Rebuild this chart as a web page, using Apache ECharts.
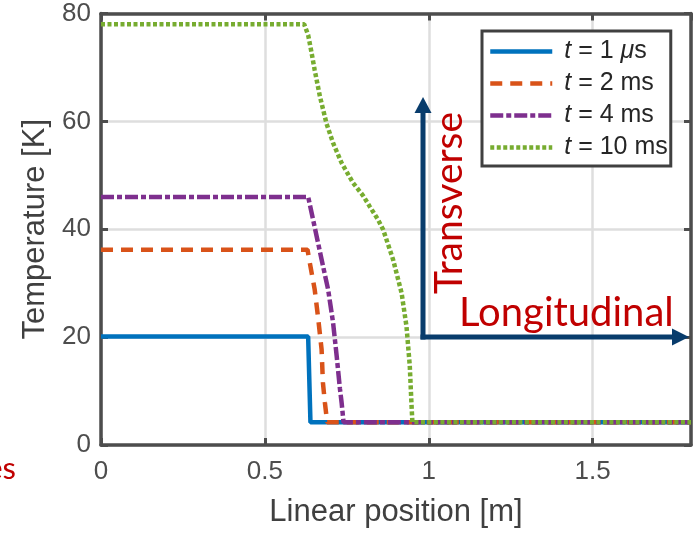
<!DOCTYPE html>
<html>
<head>
<meta charset="utf-8">
<script src="https://cdn.jsdelivr.net/npm/echarts@6/dist/echarts.min.js"></script>
<style>
  html, body { margin: 0; padding: 0; background: #fff; }
  #chart { width: 695px; height: 533px; }
</style>
</head>
<body>
<div id="chart"></div>
<script>
// temperature profiles [position m, temperature K]
const t1us = [[0, 20.1], [0.632, 20.1], [0.639, 4.2], [1.8, 4.2]]
const t2ms = [[0, 36.2], [0.63, 36.2], [0.637, 33.8], [0.652, 28.8], [0.662, 23.8],
  [0.673, 17.7], [0.677, 11.6], [0.683, 7.9], [0.69, 4.2], [1.8, 4.2]]
const t4ms = [[0, 46], [0.632, 46], [0.647, 41.8], [0.673, 34.4], [0.693, 28.8],
  [0.708, 22.7], [0.719, 16.5], [0.729, 10.4], [0.734, 7.9], [0.74, 4.2], [1.8, 4.2]]
const t10ms = [[0, 78], [0.62, 78], [0.632, 76], [0.64, 73.5], [0.652, 69.5],
  [0.668, 64.6], [0.688, 59.6], [0.708, 56], [0.734, 52.3], [0.769, 48.6],
  [0.8, 46.2], [0.82, 44.2], [0.845, 41.8], [0.861, 39.9], [0.891, 34.4],
  [0.917, 28.2], [0.932, 22], [0.942, 14.7], [0.947, 7.9], [0.95, 4.2], [1.8, 4.2]]

const names = ['t = 1 μs', 't = 2 ms', 't = 4 ms', 't = 10 ms']
const legendText = ['{i|t} = 1 {m|μ}s', '{i|t} = 2 ms', '{i|t} = 4 ms', '{i|t} = 10 ms']

const axisColor = '#4d4d4d'
const font = 'Liberation Sans'

const chart = echarts.init(document.getElementById('chart'))

function frameAxis(pos, isX) {
  return {
    type: 'value',
    position: pos,
    min: 0,
    max: isX ? 1.8 : 80,
    interval: isX ? 0.5 : 20,
    axisLine: { show: true, onZero: false, lineStyle: { color: axisColor, width: 3.5 } },
    axisTick: { show: true, inside: true, length: 7, lineStyle: { color: axisColor, width: 3 } },
    axisLabel: { show: false },
    splitLine: { show: false },
  }
}

const styles = [
  { color: '#0072BD', type: 'solid' },
  { color: '#D95319', type: [12, 8] },
  { color: '#7E2F8E', type: [13, 3, 5, 3] },
  { color: '#77AC30', type: [4, 2.5] },
]

const option = {
  animation: false,
  grid: { left: 101, right: 4, top: 13.5, bottom: 86.5, containLabel: false },
  legend: {
    orient: 'vertical',
    left: 482,
    top: 31,
    padding: [8, 3, 6, 6],
    itemWidth: 62,
    itemHeight: 14,
    itemGap: 7,
    backgroundColor: '#fff',
    borderColor: '#404040',
    borderWidth: 3,
    itemStyle: { opacity: 0 },
    lineStyle: { width: 4.5 },
    data: names,
    formatter: function (name) {
      return legendText[names.indexOf(name)]
    },
    textStyle: {
      fontFamily: font,
      fontSize: 25,
      color: '#262626',
      lineHeight: 25,
      rich: {
        i: { fontStyle: 'italic', fontFamily: font, fontSize: 25, color: '#262626', padding: [0, 0, 0, 7] },
        m: { fontStyle: 'italic', fontFamily: font, fontSize: 25, color: '#262626' },
      },
    },
  },
  xAxis: [
    {
      type: 'value',
      position: 'bottom',
      min: 0,
      max: 1.8,
      interval: 0.5,
      name: 'Linear position [m]',
      nameLocation: 'middle',
      nameGap: 52,
      nameTextStyle: { fontFamily: font, fontSize: 31, color: '#404040' },
      axisLine: { show: true, onZero: false, lineStyle: { color: axisColor, width: 3.5 } },
      axisTick: { show: true, inside: true, length: 7, lineStyle: { color: axisColor, width: 3 } },
      axisLabel: { fontFamily: font, fontSize: 26, color: axisColor, margin: 14, showMaxLabel: false },
      splitLine: { show: true, lineStyle: { color: '#dedede', width: 2.5 } },
    },
    frameAxis('top', true),
  ],
  yAxis: [
    {
      type: 'value',
      position: 'left',
      min: 0,
      max: 80,
      interval: 20,
      name: 'Temperature [K]',
      nameLocation: 'middle',
      nameGap: 47,
      nameTextStyle: { fontFamily: font, fontSize: 31, color: '#404040' },
      axisLine: { show: true, onZero: false, lineStyle: { color: axisColor, width: 3.5 } },
      axisTick: { show: true, inside: true, length: 7, lineStyle: { color: axisColor, width: 3 } },
      axisLabel: { fontFamily: font, fontSize: 26, color: axisColor, margin: 10 },
      splitLine: { show: true, lineStyle: { color: '#dedede', width: 2.5 } },
    },
    frameAxis('right', false),
  ],
  series: [t1us, t2ms, t4ms, t10ms].map(function (d, i) {
    return {
      type: 'line',
      name: names[i],
      data: d,
      showSymbol: false,
      symbol: 'none',
      color: styles[i].color,
      lineStyle: { color: styles[i].color, width: 4.5, type: styles[i].type, cap: 'butt' },
      z: 2 + i,
    }
  }),
  graphic: [
    // transverse arrow
    { type: 'line', z: 50, shape: { x1: 423, y1: 339.5, x2: 423, y2: 110 }, style: { stroke: '#083c6c', lineWidth: 5 } },
    { type: 'polygon', z: 50, shape: { points: [[423, 97], [414.5, 113], [431.5, 113]] }, style: { fill: '#083c6c' } },
    // longitudinal arrow
    { type: 'line', z: 50, shape: { x1: 420.5, y1: 337, x2: 675, y2: 337 }, style: { stroke: '#083c6c', lineWidth: 5 } },
    { type: 'polygon', z: 50, shape: { points: [[689, 337], [672, 328.5], [672, 345.5]] }, style: { fill: '#083c6c' } },
    {
      type: 'text', z: 50, x: 449, y: 294, rotation: Math.PI / 2,
      style: { text: 'Transverse', fill: '#C00000', font: '39px Lato', align: 'left', verticalAlign: 'middle' },
    },
    {
      type: 'text', z: 50, x: 459, y: 313,
      style: { text: 'Longitudinal', fill: '#C00000', font: '40px Lato', align: 'left', verticalAlign: 'middle' },
    },
    {
      type: 'text', z: 50, x: 16, y: 469,
      style: { text: 'es', fill: '#C00000', font: '31px Lato', align: 'right', verticalAlign: 'middle' },
    },
  ],
}

chart.setOption(option)
</script>
</body>
</html>
